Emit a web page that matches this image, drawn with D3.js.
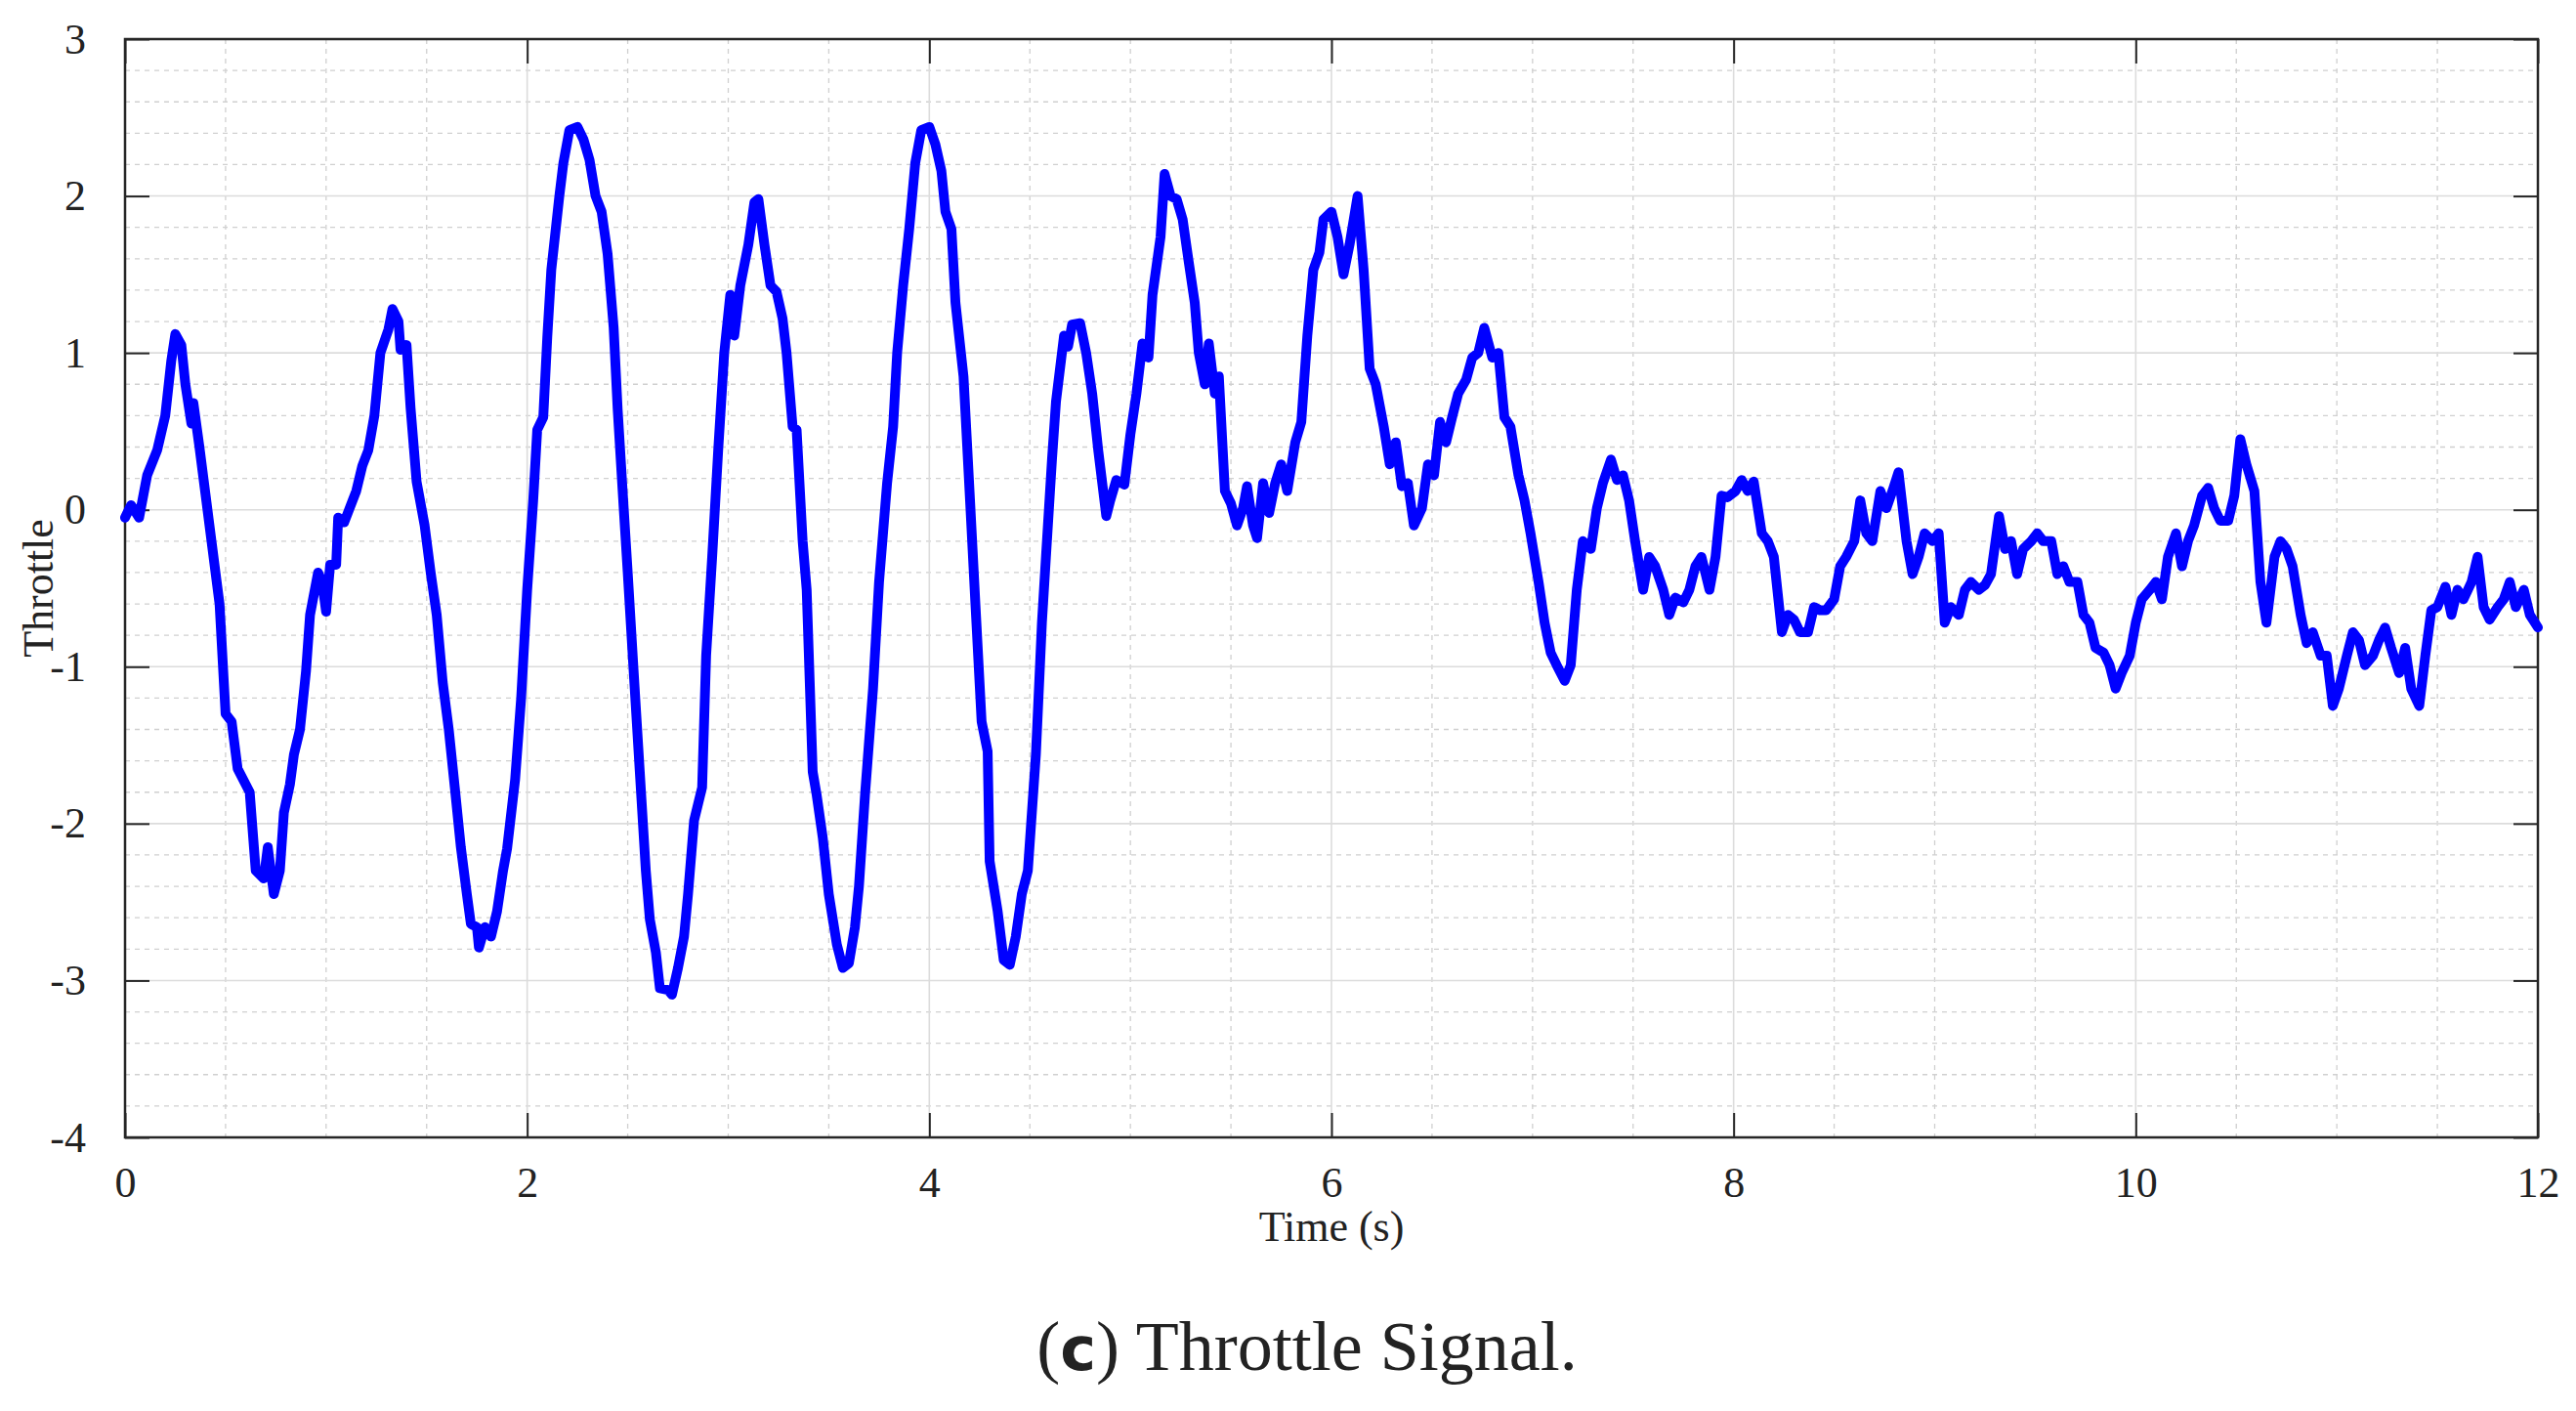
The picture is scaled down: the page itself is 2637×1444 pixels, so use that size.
<!DOCTYPE html>
<html><head><meta charset="utf-8">
<script src="https://cdn.jsdelivr.net/npm/d3@7"></script>
<style>body{margin:0;background:#fff}text{font-family:"Liberation Serif","DejaVu Serif",serif;fill:#222}</style>
</head><body><svg id="c" width="2637" height="1444"></svg>
<script>
const times=[0,0.03,0.07,0.11,0.16,0.2,0.23,0.25,0.28,0.3,0.33,0.34,0.37,0.4,0.43,0.47,0.5,0.53,0.56,0.6,0.62,0.65,0.69,0.71,0.74,0.77,0.79,0.82,0.84,0.87,0.9,0.92,0.96,0.98,1.0,1.02,1.05,1.06,1.09,1.12,1.15,1.18,1.21,1.24,1.27,1.31,1.33,1.36,1.37,1.4,1.42,1.45,1.49,1.52,1.55,1.58,1.61,1.64,1.67,1.7,1.72,1.75,1.76,1.79,1.82,1.85,1.88,1.9,1.94,1.97,2.0,2.03,2.05,2.08,2.1,2.12,2.16,2.18,2.21,2.25,2.28,2.31,2.34,2.37,2.4,2.43,2.45,2.48,2.5,2.53,2.56,2.59,2.61,2.64,2.66,2.7,2.72,2.75,2.78,2.8,2.83,2.87,2.89,2.92,2.95,2.98,3.01,3.03,3.06,3.1,3.13,3.15,3.18,3.21,3.24,3.27,3.29,3.32,3.34,3.37,3.39,3.42,3.44,3.47,3.5,3.54,3.57,3.6,3.63,3.65,3.68,3.72,3.75,3.79,3.82,3.84,3.87,3.9,3.93,3.96,4.0,4.03,4.06,4.08,4.11,4.13,4.17,4.2,4.23,4.26,4.29,4.3,4.34,4.37,4.4,4.43,4.46,4.49,4.53,4.56,4.58,4.61,4.63,4.67,4.69,4.71,4.75,4.78,4.81,4.84,4.88,4.9,4.93,4.97,5.0,5.03,5.06,5.09,5.11,5.15,5.17,5.2,5.23,5.26,5.29,5.32,5.34,5.37,5.39,5.42,5.44,5.47,5.5,5.53,5.56,5.58,5.61,5.63,5.66,5.69,5.72,5.75,5.78,5.82,5.85,5.88,5.91,5.94,5.96,6.0,6.03,6.06,6.09,6.13,6.16,6.19,6.22,6.26,6.29,6.32,6.35,6.38,6.41,6.45,6.48,6.51,6.54,6.57,6.6,6.63,6.67,6.7,6.73,6.76,6.8,6.83,6.86,6.89,6.93,6.96,6.99,7.03,7.06,7.09,7.12,7.16,7.19,7.22,7.25,7.29,7.32,7.35,7.39,7.42,7.45,7.48,7.51,7.55,7.58,7.61,7.65,7.68,7.71,7.75,7.78,7.81,7.84,7.88,7.91,7.94,7.97,8.01,8.04,8.07,8.1,8.14,8.17,8.2,8.24,8.27,8.3,8.33,8.37,8.4,8.43,8.46,8.5,8.53,8.56,8.6,8.63,8.66,8.69,8.73,8.76,8.79,8.82,8.86,8.89,8.92,8.95,8.99,9.02,9.05,9.08,9.12,9.15,9.18,9.22,9.25,9.28,9.32,9.35,9.38,9.41,9.44,9.48,9.51,9.54,9.58,9.61,9.64,9.67,9.71,9.74,9.77,9.8,9.84,9.87,9.9,9.93,9.97,10.0,10.03,10.07,10.1,10.13,10.16,10.2,10.23,10.26,10.29,10.33,10.36,10.39,10.42,10.46,10.49,10.52,10.55,10.59,10.62,10.65,10.69,10.72,10.75,10.78,10.82,10.85,10.88,10.92,10.95,10.98,11.01,11.05,11.08,11.11,11.14,11.18,11.21,11.24,11.27,11.31,11.34,11.37,11.41,11.44,11.47,11.5,11.54,11.57,11.6,11.63,11.67,11.7,11.73,11.76,11.8,11.83,11.86,11.89,11.93,11.96,12.0];
const throttle=[-0.05,0.03,-0.05,0.22,0.38,0.6,0.95,1.12,1.05,0.8,0.55,0.68,0.4,0.1,-0.2,-0.6,-1.3,-1.35,-1.65,-1.75,-1.8,-2.3,-2.35,-2.15,-2.45,-2.3,-1.93,-1.75,-1.56,-1.4,-1.03,-0.67,-0.4,-0.46,-0.65,-0.35,-0.35,-0.05,-0.08,0.02,0.12,0.28,0.38,0.6,1.0,1.15,1.28,1.2,1.02,1.05,0.65,0.18,-0.1,-0.4,-0.67,-1.1,-1.4,-1.77,-2.15,-2.45,-2.64,-2.66,-2.79,-2.66,-2.72,-2.56,-2.3,-2.16,-1.72,-1.2,-0.51,0.06,0.51,0.59,1.1,1.53,2.0,2.21,2.42,2.44,2.36,2.23,2.0,1.9,1.63,1.16,0.64,0.01,-0.4,-1.04,-1.67,-2.3,-2.61,-2.82,-3.05,-3.06,-3.09,-2.92,-2.72,-2.45,-1.98,-1.77,-0.93,-0.3,0.38,1.0,1.37,1.11,1.43,1.69,1.96,1.98,1.69,1.43,1.39,1.22,1.0,0.53,0.51,-0.2,-0.51,-1.67,-1.82,-2.09,-2.45,-2.77,-2.92,-2.89,-2.66,-2.4,-1.82,-1.14,-0.46,0.17,0.53,1.0,1.43,1.79,2.21,2.42,2.44,2.33,2.16,1.9,1.79,1.32,0.85,0.12,-0.62,-1.35,-1.54,-2.24,-2.56,-2.87,-2.9,-2.72,-2.45,-2.3,-1.56,-0.72,-0.3,0.32,0.69,1.11,1.04,1.18,1.19,1.0,0.74,0.38,-0.04,0.06,0.19,0.16,0.48,0.74,1.06,0.97,1.37,1.74,2.14,2.0,1.98,1.85,1.58,1.32,1.0,0.8,1.06,0.74,0.85,0.12,0.04,-0.1,0.01,0.15,-0.1,-0.18,0.17,-0.02,0.17,0.29,0.12,0.43,0.56,1.11,1.53,1.64,1.85,1.9,1.74,1.5,1.69,2.0,1.53,0.9,0.8,0.53,0.29,0.43,0.15,0.17,-0.1,0.01,0.29,0.22,0.56,0.43,0.59,0.74,0.83,0.97,1.0,1.16,0.97,1.0,0.59,0.53,0.22,0.06,-0.15,-0.46,-0.72,-0.91,-0.99,-1.09,-0.99,-0.51,-0.2,-0.25,0.01,0.17,0.32,0.19,0.22,0.06,-0.2,-0.51,-0.3,-0.36,-0.51,-0.67,-0.56,-0.59,-0.51,-0.36,-0.3,-0.51,-0.3,0.09,0.08,0.12,0.19,0.12,0.18,-0.15,-0.2,-0.3,-0.78,-0.67,-0.7,-0.78,-0.78,-0.62,-0.64,-0.64,-0.57,-0.36,-0.3,-0.2,0.06,-0.15,-0.2,0.12,0.01,0.12,0.24,-0.2,-0.41,-0.3,-0.15,-0.2,-0.15,-0.72,-0.62,-0.67,-0.51,-0.46,-0.51,-0.48,-0.41,-0.04,-0.25,-0.2,-0.41,-0.25,-0.2,-0.15,-0.2,-0.2,-0.41,-0.36,-0.46,-0.46,-0.67,-0.72,-0.88,-0.91,-0.99,-1.14,-1.04,-0.93,-0.72,-0.57,-0.51,-0.46,-0.57,-0.3,-0.15,-0.36,-0.2,-0.1,0.09,0.14,0.01,-0.07,-0.07,0.09,0.45,0.29,0.12,-0.46,-0.72,-0.3,-0.2,-0.25,-0.36,-0.67,-0.85,-0.78,-0.93,-0.93,-1.25,-1.14,-0.93,-0.78,-0.83,-0.99,-0.93,-0.83,-0.75,-0.88,-1.04,-0.88,-1.14,-1.25,-0.93,-0.64,-0.62,-0.49,-0.67,-0.51,-0.57,-0.46,-0.3,-0.62,-0.7,-0.62,-0.57,-0.46,-0.62,-0.51,-0.67,-0.75];
const xTicks=[0,2,4,6,8,10,12];
const yTicks=[-4,-3,-2,-1,0,1,2,3];
const xLabel="Time (s)", yLabel="Throttle";

const L=128,R=2598,T=40,B=1164;
const svg=d3.select("#c");
const x=d3.scaleLinear().domain([0,12]).range([L,R]);
const y=d3.scaleLinear().domain([-4,3]).range([B,T]);
const g=svg.append("g");
d3.range(0,12.01,0.5).forEach(v=>{if(v%2) g.append("line").attr("x1",x(v)).attr("x2",x(v)).attr("y1",T).attr("y2",B).attr("stroke","#d0d0d0").attr("stroke-width",1.3).attr("stroke-dasharray","5,5");});
d3.range(-4,3.001,0.2).forEach(v=>{const r=Math.round(v*5)/5;if(Math.abs(r-Math.round(r))>1e-6) g.append("line").attr("x1",L).attr("x2",R).attr("y1",y(r)).attr("y2",y(r)).attr("stroke","#d0d0d0").attr("stroke-width",1.3).attr("stroke-dasharray","5,5");});
xTicks.forEach(v=>g.append("line").attr("x1",x(v)).attr("x2",x(v)).attr("y1",T).attr("y2",B).attr("stroke","#dcdcdc").attr("stroke-width",1.6));
yTicks.forEach(v=>g.append("line").attr("x1",L).attr("x2",R).attr("y1",y(v)).attr("y2",y(v)).attr("stroke","#dcdcdc").attr("stroke-width",1.6));
const fmt=d=>String(d);
const ax=svg.append("g").attr("transform",`translate(0,${B})`).call(d3.axisBottom(x).tickValues(xTicks).tickFormat(fmt).tickSize(-25).tickPadding(30));
const ay=svg.append("g").attr("transform",`translate(${L},0)`).call(d3.axisLeft(y).tickValues(yTicks).tickFormat(fmt).tickSize(-25).tickPadding(40));
svg.append("g").attr("transform",`translate(0,${T})`).call(d3.axisTop(x).tickValues(xTicks).tickFormat("").tickSize(-25));
svg.append("g").attr("transform",`translate(${R},0)`).call(d3.axisRight(y).tickValues(yTicks).tickFormat("").tickSize(-25));
svg.selectAll(".domain").remove();
svg.selectAll("g").attr("font-family",null).attr("font-size",null);
svg.selectAll(".tick line").attr("stroke","#262626").attr("stroke-width",2);
svg.selectAll(".tick text").style("font-size","44px").style("font-family",'"Liberation Serif",serif').attr("fill","#222");
svg.append("rect").attr("x",L).attr("y",T).attr("width",R-L).attr("height",B-T).attr("fill","none").attr("stroke","#262626").attr("stroke-width",2.5);
const line=d3.line().x((d,i)=>x(times[i])).y(d=>y(d));
svg.append("path").datum(throttle).attr("d",line).attr("fill","none").attr("stroke","#0000ff").attr("stroke-width",10).attr("stroke-linejoin","round").attr("stroke-linecap","round");
svg.append("text").attr("x",(L+R)/2).attr("y",1270).attr("text-anchor","middle").style("font-size","44px").text(xLabel);
svg.append("text").attr("transform",`translate(54,${(T+B)/2}) rotate(-90)`).attr("text-anchor","middle").style("font-size","44px").text(yLabel);
const cap=svg.append("text").attr("x",1338).attr("y",1402).attr("text-anchor","middle").style("font-size","72px");
cap.append("tspan").text("(");
cap.append("tspan").style("font-weight","bold").style("font-family","'DejaVu Sans',sans-serif").style("font-size","62px").text("c");
cap.append("tspan").text(") Throttle Signal.");
</script></body></html>
